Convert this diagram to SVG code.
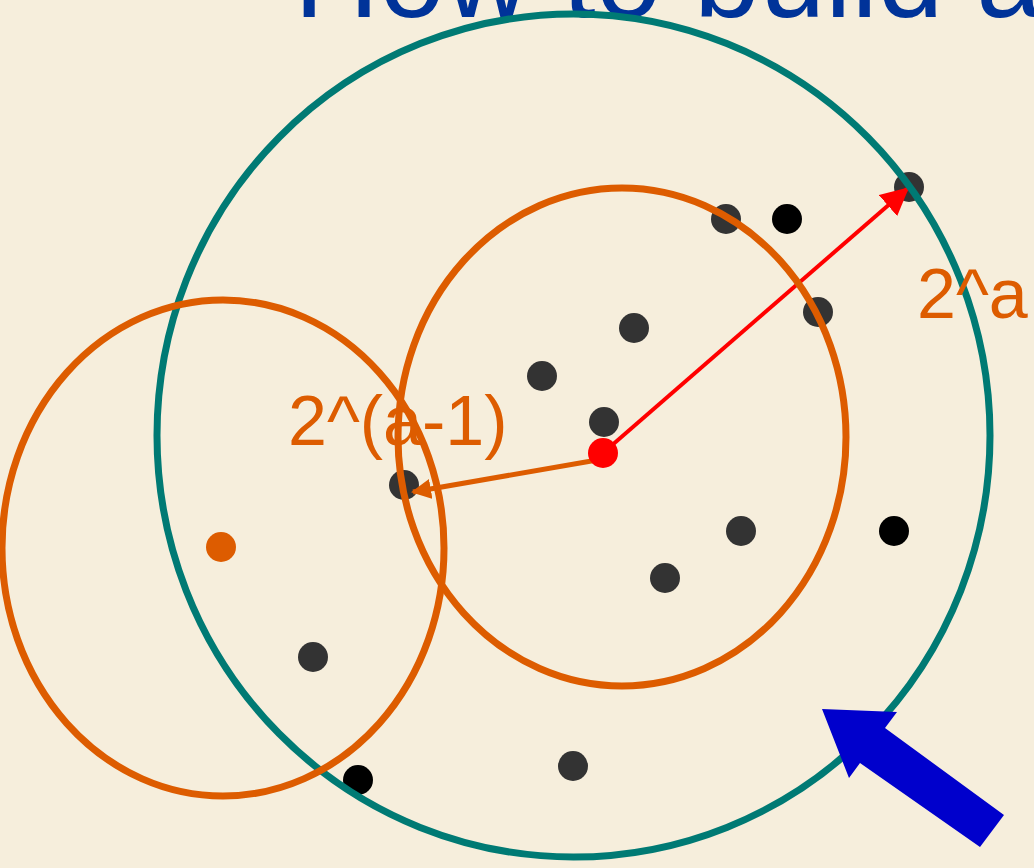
<svg xmlns="http://www.w3.org/2000/svg" width="1034" height="868" viewBox="0 0 1034 868">
<style>
.dot{fill:#333333}
.blk{fill:#000000}
.lbl{font-family:"Liberation Sans",Arial,sans-serif;fill:#DD5C00}
.ring{fill:none;stroke-width:7}
</style>
<defs>
<marker id="redHead" viewBox="0 0 10 10" refX="9" refY="5" markerWidth="7" markerHeight="7" markerUnits="strokeWidth" orient="auto">
<path d="M0,0 L10,5 L0,10 z" fill="#FF0000"/>
</marker>
<marker id="orHead" viewBox="0 0 10 10" refX="9" refY="5" markerWidth="4" markerHeight="4" markerUnits="strokeWidth" orient="auto">
<path d="M0,0 L10,5 L0,10 z" fill="#DD5C00"/>
</marker>
</defs>
<rect x="0" y="0" width="1034" height="868" fill="#F6EEDC"/>
<text x="294" y="17" font-family="'Liberation Sans',Arial,sans-serif" font-size="118" fill="#003399">How to build a</text>
<g id="points">
<circle cx="726" cy="219" r="15" class="dot"/>
<circle cx="787" cy="219" r="15" class="blk"/>
<circle cx="909" cy="187" r="15" class="dot"/>
<circle cx="818" cy="312" r="15" class="dot"/>
<circle cx="634" cy="328" r="15" class="dot"/>
<circle cx="542" cy="376" r="15" class="dot"/>
<circle cx="604" cy="422" r="15" class="dot"/>
<circle cx="404" cy="485" r="15" class="dot"/>
<circle cx="741" cy="531" r="15" class="dot"/>
<circle cx="894" cy="531" r="15" class="blk"/>
<circle cx="665" cy="578" r="15" class="dot"/>
<circle cx="313" cy="657" r="15" class="dot"/>
<circle cx="573" cy="766" r="15" class="dot"/>
<circle cx="358" cy="780" r="15" class="blk"/>
<circle cx="221" cy="547" r="15" fill="#DD5C00"/>
</g>
<g id="connectors">
<line x1="603" y1="453" x2="907" y2="189" stroke="#FF0000" stroke-width="4" marker-end="url(#redHead)"/>
<line x1="603" y1="459" x2="413" y2="492" stroke="#DD5C00" stroke-width="5" marker-end="url(#orHead)"/>
</g>
<g id="outer-circle"><ellipse cx="573.5" cy="435.5" rx="416.5" ry="421.5" class="ring" stroke="#007A74" stroke-width="6"/></g>
<g id="ball-center"><ellipse cx="622" cy="437" rx="224" ry="249" class="ring" stroke="#DD5C00"/></g>
<g id="ball-left"><ellipse cx="223" cy="548" rx="221" ry="248" class="ring" stroke="#DD5C00"/></g>
<g id="center"><circle cx="603" cy="453" r="15" fill="#FF0000"/></g>
<text x="917" y="318" class="lbl" font-size="70">2^a</text>
<text x="288" y="445" class="lbl" font-size="70">2^(a-1)</text>
<g id="pointer"><polygon points="822,709 897,712 885,728 1004,815 980,847 860,763 849,778" fill="#0000CC"/></g>
</svg>
